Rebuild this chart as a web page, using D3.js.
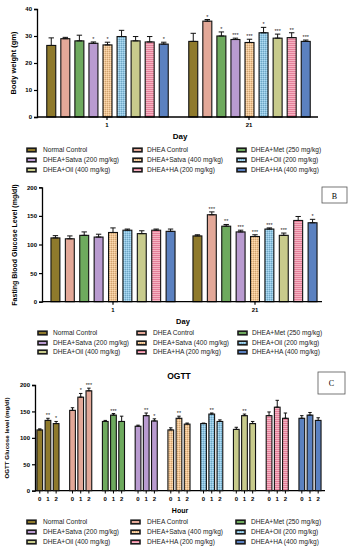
<!DOCTYPE html>
<html><head><meta charset="utf-8">
<script src="https://cdn.jsdelivr.net/npm/d3@7"></script>
<style>body{margin:0;background:#fff}svg{display:block;font-family:"Liberation Sans",Arial,sans-serif}</style>
</head><body><svg id="c" width="351" height="550"></svg>
<script>
const groups = ["Normal Control","DHEA Control","DHEA+Met (250 mg/kg)","DHEA+Satva (200 mg/kg)","DHEA+Satva (400 mg/kg)","DHEA+Oil (200 mg/kg)","DHEA+Oil (400 mg/kg)","DHEA+HA (200 mg/kg)","DHEA+HA (400 mg/kg)"];
const colors = ["#8f7a2c","#e3a898","#6eaa5e","#b99bd0","#f3c48e","#8cc6e6","#c8cb8c","#e4809a","#5b81c0"];
const patterns = ["none","none","none","none","check","check","none","stripe","none"];
const days = ["1","21"];
const hours = ["0","1","2"];
// Panel A: body weight
const bwDay1 = [26.5,29.0,28.2,27.3,26.7,29.8,28.2,27.8,27.0];
const bwDay1Err = [2.8,0.5,2.1,0.5,1.0,2.3,1.6,2.0,0.7];
const bwDay21 = [28.0,35.5,30.0,28.7,27.6,31.2,29.2,29.4,28.0];
const bwDay21Err = [3.0,0.6,1.5,0.5,1.2,2.0,1.5,1.8,0.5];
const bwStars1 = ["","","","*","*","","","","*"];
const bwStars21 = ["","*","*","***","***","*","***","**","***"];
// Panel B: fasting blood glucose
const fbgDay1 = [111.5,110,116,113,121,125,119,125,123];
const fbgDay1Err = [4,5,6,5,8,2,5,2,4];
const fbgDay21 = [115,152,132,122,114,127,116,142,138];
const fbgDay21Err = [2,5,3,3,3,2,4,7,6];
const fbgStars1 = ["","","","","","","","",""];
const fbgStars21 = ["","***","**","***","***","***","***","","*"];
// Panel C: OGTT (hours 0,1,2)
const ogtt0 = [115,152,131,122,115,127,116,142,137];
const ogtt1 = [133,177,143,142,137,145,142,158,143];
const ogtt2 = [127,189,131,132,126,131,127,137,133];
const ogtt0Err = [2,5,2,2,4,1,4,7,5];
const ogtt1Err = [4,7,3,5,4,2,3,13,5];
const ogtt2Err = [4,5,10,4,2,3,4,10,5];
const ogttStars1 = ["**","*","***","**","**","**","**","",""];
const ogttStars2 = ["*","***","","*","","","","",""];
const yTicksA = [0,10,20,30,40];
const yTicksB = [0,50,100,150,200];

const svg = d3.select("#c");
const defs = svg.append("defs");
colors.forEach((c,i)=>{
  const p = defs.append("pattern").attr("id","p"+i).attr("patternUnits","userSpaceOnUse");
  if(patterns[i]==="check"){
    p.attr("width",2).attr("height",2);
    p.append("rect").attr("width",2).attr("height",2).attr("fill",c);
    p.append("rect").attr("width",1).attr("height",1).attr("fill","#fff").attr("opacity",0.35);
    p.append("rect").attr("x",1).attr("y",1).attr("width",1).attr("height",1).attr("fill",d3.color(c).darker(0.5));
  } else if(patterns[i]==="stripe"){
    p.attr("width",4).attr("height",2);
    p.append("rect").attr("width",4).attr("height",2).attr("fill",c);
    p.append("rect").attr("width",4).attr("height",1).attr("fill","#f5b3c2");
  } else {
    p.attr("width",4).attr("height",4);
    p.append("rect").attr("width",4).attr("height",4).attr("fill",c);
  }
});
const fillOf = i => patterns[i]==="none" ? colors[i] : `url(#p${i})`;

function yAxis(y, x0, ticks){
  const g = svg.append("g").attr("transform",`translate(${x0},0)`)
    .call(d3.axisLeft(y).tickValues(ticks).tickSize(3).tickPadding(2));
  g.select(".domain").attr("stroke","#000").attr("stroke-width",1.3);
  g.selectAll(".tick line").attr("stroke","#000").attr("stroke-width",1.2);
  g.selectAll("text").attr("font-size",6).attr("font-weight","bold").attr("fill","#000");
}
function drawBar(x,w,v,e,y,i,star){
  svg.append("rect").attr("x",x).attr("y",y(v)).attr("width",w).attr("height",y(0)-y(v))
    .attr("fill",fillOf(i)).attr("stroke","#111").attr("stroke-width",1.1);
  const cx = x+w/2;
  svg.append("line").attr("x1",cx).attr("x2",cx).attr("y1",y(v)).attr("y2",y(v+e)).attr("stroke","#111").attr("stroke-width",1);
  svg.append("line").attr("x1",cx-w*0.3).attr("x2",cx+w*0.3).attr("y1",y(v+e)).attr("y2",y(v+e)).attr("stroke","#111").attr("stroke-width",1);
  svg.append("line").attr("x1",cx-w*0.3).attr("x2",cx+w*0.3).attr("y1",y(v)).attr("y2",y(v)).attr("stroke","#111").attr("stroke-width",1);
  if(star) svg.append("text").attr("x",cx).attr("y",y(v+e)-1).attr("text-anchor","middle").attr("font-size",5.5).attr("fill","#222").text(star);
}
function legend(cols, rows, sw){
  groups.forEach((g,i)=>{
    const c = i%3, r = Math.floor(i/3);
    svg.append("rect").attr("x",sw[c]).attr("y",rows[r]-1.8).attr("width",9).attr("height",3.6)
      .attr("fill",fillOf(i)).attr("stroke","#1a1a1a").attr("stroke-width",1.6);
    svg.append("text").attr("x",cols[c]).attr("y",rows[r]+2.3).attr("font-size",6.6).attr("fill","#222").text(g);
  });
}
function xAxisDays(x, y, y0, xr){
  svg.append("line").attr("x1",xr[0]).attr("x2",xr[1]).attr("y1",y0).attr("y2",y0).attr("stroke","#000").attr("stroke-width",1.3);
  days.forEach(d=>{
    const cx = x(d)+x.bandwidth()/2;
    svg.append("line").attr("x1",cx).attr("x2",cx).attr("y1",y0).attr("y2",y0+3).attr("stroke","#000").attr("stroke-width",1.2);
    svg.append("text").attr("x",cx).attr("y",y0+10).attr("text-anchor","middle").attr("font-size",6).attr("font-weight","bold").text(d);
  });
}

// ---- Panel A
{
  const y = d3.scaleLinear().domain([0,40]).range([117,9]);
  const x = d3.scaleBand().domain(days).range([36,320]);
  const xi = d3.scaleBand().domain(d3.range(9)).range([5.7,137.3]).padding(0.36);
  const vals = [bwDay1,bwDay21], errs=[bwDay1Err,bwDay21Err], stars=[bwStars1,bwStars21];
  days.forEach((d,di)=>{
    d3.range(9).forEach(i=>drawBar(x(d)+xi(i), xi.bandwidth(), vals[di][i], errs[di][i], y, i, stars[di][i]));
  });
  yAxis(y, 37, yTicksA);
  xAxisDays(x, y, 117, [37,318]);
  svg.append("text").attr("x",180).attr("y",139).attr("text-anchor","middle").attr("font-size",8).attr("font-weight","bold").text("Day");
  svg.append("text").attr("transform","translate(16,63) rotate(-90)").attr("text-anchor","middle").attr("font-size",7.5).attr("font-weight","bold").text("Body weight (gm)");
  legend([43,147,251],[150,160,170],[27,133,237]);
}
// ---- Panel B
{
  const y = d3.scaleLinear().domain([0,200]).range([301.7,187.3]);
  const x = d3.scaleBand().domain(days).range([42,326]);
  const xi = d3.scaleBand().domain(d3.range(9)).range([3.5,138.5]).padding(0.38);
  const vals = [fbgDay1,fbgDay21], errs=[fbgDay1Err,fbgDay21Err], stars=[fbgStars1,fbgStars21];
  days.forEach((d,di)=>{
    d3.range(9).forEach(i=>drawBar(x(d)+xi(i), xi.bandwidth(), vals[di][i], errs[di][i], y, i, stars[di][i]));
  });
  yAxis(y, 42, yTicksB);
  xAxisDays(x, y, 301.7, [42,322]);
  svg.append("text").attr("x",183).attr("y",324).attr("text-anchor","middle").attr("font-size",7.5).attr("font-weight","bold").text("Day");
  svg.append("text").attr("transform","translate(17,245) rotate(-90)").attr("text-anchor","middle").attr("font-size",7).attr("font-weight","bold").text("Fasting Blood Glucose Level (mg/dl)");
  svg.append("rect").attr("x",322).attr("y",187).attr("width",25).attr("height",16).attr("fill","#fff").attr("stroke","#555").attr("stroke-width",0.8);
  svg.append("text").attr("x",334.5).attr("y",198.5).attr("text-anchor","middle").attr("font-size",8).attr("font-family","Liberation Serif,serif").text("B");
  legend([53,153,252],[333,343,352],[38,137,238]);
}
// ---- Panel C
{
  const y = d3.scaleLinear().domain([0,200]).range([490.7,385]);
  const x = d3.scaleBand().domain(d3.range(9)).range([31.6,326.4]);
  const xi = d3.scaleBand().domain(hours).range([2.85,29.85]).padding(0.3);
  const vals=[ogtt0,ogtt1,ogtt2], errs=[ogtt0Err,ogtt1Err,ogtt2Err], stars=[groups.map(()=>""),ogttStars1,ogttStars2];
  svg.append("line").attr("x1",35).attr("x2",325).attr("y1",490.7).attr("y2",490.7).attr("stroke","#000").attr("stroke-width",1.3);
  d3.range(9).forEach(g=>{
    hours.forEach((h,hi)=>{
      const bx = x(g)+xi(h);
      drawBar(bx, xi.bandwidth(), vals[hi][g], errs[hi][g], y, g, stars[hi][g]);
      const cx = bx+xi.bandwidth()/2;
      svg.append("line").attr("x1",cx).attr("x2",cx).attr("y1",490.7).attr("y2",493.5).attr("stroke","#000").attr("stroke-width",1);
      svg.append("text").attr("x",cx).attr("y",501).attr("text-anchor","middle").attr("font-size",6).attr("font-weight","bold").text(h);
    });
  });
  yAxis(y, 35, yTicksB);
  svg.append("text").attr("x",179).attr("y",379).attr("text-anchor","middle").attr("font-size",8.5).attr("font-weight","bold").text("OGTT");
  svg.append("text").attr("x",180).attr("y",513).attr("text-anchor","middle").attr("font-size",7).attr("font-weight","bold").text("Hour");
  svg.append("text").attr("transform","translate(9,438) rotate(-90)").attr("text-anchor","middle").attr("font-size",6.2).attr("font-weight","bold").text("OGTT Glucose level (mg/dl)");
  svg.append("rect").attr("x",318).attr("y",372).attr("width",27).attr("height",22).attr("fill","#fff").attr("stroke","#555").attr("stroke-width",0.8);
  svg.append("text").attr("x",331.5).attr("y",386).attr("text-anchor","middle").attr("font-size",8).attr("font-family","Liberation Serif,serif").text("C");
  legend([43,147,251],[522,532,542],[27,131,236]);
}
</script></body></html>
